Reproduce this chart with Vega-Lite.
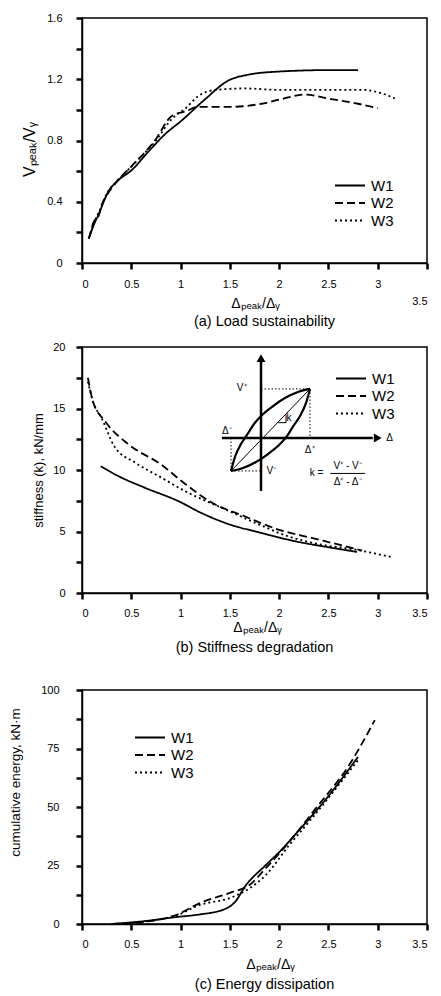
{
  "$schema": "https://vega.github.io/schema/vega-lite/v6.json",
  "padding": {"left": 7, "top": 11, "right": 5, "bottom": 2},
  "spacing": 10,
  "config": {
    "font": "Liberation Sans",
    "view": {"stroke": "black", "strokeWidth": 1.5},
    "axis": {"ticks": true, "domain": true, "domainColor": "black", "domainWidth": 1.5, "tickColor": "#000000", "tickWidth": 2.5, "tickSize": 6, "tickOpacity": 1, "labelColor": "black", "labelFontSize": 11, "titleColor": "black", "titleFontWeight": "normal", "titleFontSize": 14, "grid": false, "titleAlign": "center", "titleBaseline": "middle"},
    "title": {"color": "black", "fontWeight": "normal", "fontSize": 14.5},
    "legend": {"orient": "none", "title": null, "labelFontSize": 15, "labelColor": "black", "symbolStrokeWidth": 2, "symbolSize": 900, "symbolStrokeColor": "black", "clipHeight": 15, "rowPadding": 1.5, "labelOffset": 5}
  },
  "datasets": {
    "a": [
      {"x": 0.07, "y": 0.16, "s": "W1"}, {"x": 0.12, "y": 0.25, "s": "W1"}, {"x": 0.17, "y": 0.32, "s": "W1"}, {"x": 0.22, "y": 0.40, "s": "W1"}, {"x": 0.27, "y": 0.47, "s": "W1"}, {"x": 0.35, "y": 0.53, "s": "W1"}, {"x": 0.51, "y": 0.61, "s": "W1"}, {"x": 0.65, "y": 0.71, "s": "W1"}, {"x": 0.84, "y": 0.84, "s": "W1"}, {"x": 1.01, "y": 0.93, "s": "W1"}, {"x": 1.25, "y": 1.07, "s": "W1"}, {"x": 1.48, "y": 1.19, "s": "W1"}, {"x": 1.69, "y": 1.23, "s": "W1"}, {"x": 1.99, "y": 1.25, "s": "W1"}, {"x": 2.53, "y": 1.26, "s": "W1"}, {"x": 2.80, "y": 1.26, "s": "W1"},
      {"x": 0.07, "y": 0.16, "s": "W2"}, {"x": 0.12, "y": 0.27, "s": "W2"}, {"x": 0.17, "y": 0.31, "s": "W2"}, {"x": 0.20, "y": 0.38, "s": "W2"}, {"x": 0.25, "y": 0.44, "s": "W2"}, {"x": 0.35, "y": 0.53, "s": "W2"}, {"x": 0.50, "y": 0.63, "s": "W2"}, {"x": 0.74, "y": 0.80, "s": "W2"}, {"x": 0.91, "y": 0.96, "s": "W2"}, {"x": 1.05, "y": 0.99, "s": "W2"}, {"x": 1.18, "y": 1.02, "s": "W2"}, {"x": 1.52, "y": 1.02, "s": "W2"}, {"x": 1.82, "y": 1.04, "s": "W2"}, {"x": 2.02, "y": 1.07, "s": "W2"}, {"x": 2.26, "y": 1.10, "s": "W2"}, {"x": 2.53, "y": 1.07, "s": "W2"}, {"x": 2.80, "y": 1.04, "s": "W2"}, {"x": 3.00, "y": 1.01, "s": "W2"},
      {"x": 0.07, "y": 0.16, "s": "W3"}, {"x": 0.12, "y": 0.26, "s": "W3"}, {"x": 0.17, "y": 0.33, "s": "W3"}, {"x": 0.25, "y": 0.45, "s": "W3"}, {"x": 0.35, "y": 0.53, "s": "W3"}, {"x": 0.50, "y": 0.63, "s": "W3"}, {"x": 0.75, "y": 0.80, "s": "W3"}, {"x": 0.91, "y": 0.94, "s": "W3"}, {"x": 1.05, "y": 1.01, "s": "W3"}, {"x": 1.18, "y": 1.09, "s": "W3"}, {"x": 1.35, "y": 1.13, "s": "W3"}, {"x": 1.65, "y": 1.14, "s": "W3"}, {"x": 2.02, "y": 1.13, "s": "W3"}, {"x": 2.36, "y": 1.13, "s": "W3"}, {"x": 2.87, "y": 1.13, "s": "W3"}, {"x": 3.03, "y": 1.11, "s": "W3"}, {"x": 3.19, "y": 1.07, "s": "W3"}
    ],
    "b": [
      {"x": 0.19, "y": 10.3, "s": "W1"}, {"x": 0.37, "y": 9.5, "s": "W1"}, {"x": 0.64, "y": 8.55, "s": "W1"}, {"x": 0.98, "y": 7.46, "s": "W1"}, {"x": 1.21, "y": 6.51, "s": "W1"}, {"x": 1.48, "y": 5.62, "s": "W1"}, {"x": 1.82, "y": 4.88, "s": "W1"}, {"x": 2.16, "y": 4.21, "s": "W1"}, {"x": 2.50, "y": 3.72, "s": "W1"}, {"x": 2.79, "y": 3.34, "s": "W1"},
      {"x": 0.06, "y": 17.5, "s": "W2"}, {"x": 0.11, "y": 15.6, "s": "W2"}, {"x": 0.23, "y": 14.0, "s": "W2"}, {"x": 0.47, "y": 12.1, "s": "W2"}, {"x": 0.81, "y": 10.4, "s": "W2"}, {"x": 1.01, "y": 9.1, "s": "W2"}, {"x": 1.32, "y": 7.33, "s": "W2"}, {"x": 1.65, "y": 6.24, "s": "W2"}, {"x": 1.99, "y": 5.16, "s": "W2"}, {"x": 2.33, "y": 4.48, "s": "W2"}, {"x": 2.67, "y": 3.80, "s": "W2"}, {"x": 2.84, "y": 3.45, "s": "W2"},
      {"x": 0.06, "y": 17.2, "s": "W3"}, {"x": 0.11, "y": 15.6, "s": "W3"}, {"x": 0.20, "y": 14.2, "s": "W3"}, {"x": 0.33, "y": 11.9, "s": "W3"}, {"x": 0.54, "y": 10.6, "s": "W3"}, {"x": 0.81, "y": 9.36, "s": "W3"}, {"x": 1.08, "y": 8.14, "s": "W3"}, {"x": 1.42, "y": 6.92, "s": "W3"}, {"x": 1.76, "y": 5.70, "s": "W3"}, {"x": 2.09, "y": 4.61, "s": "W3"}, {"x": 2.43, "y": 3.93, "s": "W3"}, {"x": 2.77, "y": 3.53, "s": "W3"}, {"x": 3.15, "y": 2.90, "s": "W3"}
    ],
    "c": [
      {"x": 0.30, "y": 0, "s": "W1"}, {"x": 0.67, "y": 1.4, "s": "W1"}, {"x": 0.94, "y": 2.9, "s": "W1"}, {"x": 1.18, "y": 4.0, "s": "W1"}, {"x": 1.45, "y": 6.4, "s": "W1"}, {"x": 1.55, "y": 9.3, "s": "W1"}, {"x": 1.66, "y": 16.4, "s": "W1"}, {"x": 1.86, "y": 25.0, "s": "W1"}, {"x": 2.00, "y": 30.7, "s": "W1"}, {"x": 2.20, "y": 40.0, "s": "W1"}, {"x": 2.48, "y": 53.6, "s": "W1"}, {"x": 2.80, "y": 71.4, "s": "W1"},
      {"x": 0.30, "y": 0, "s": "W2"}, {"x": 0.67, "y": 1.1, "s": "W2"}, {"x": 0.98, "y": 4.3, "s": "W2"}, {"x": 1.18, "y": 8.6, "s": "W2"}, {"x": 1.52, "y": 13.6, "s": "W2"}, {"x": 1.69, "y": 16.4, "s": "W2"}, {"x": 1.86, "y": 23.6, "s": "W2"}, {"x": 2.10, "y": 35.0, "s": "W2"}, {"x": 2.37, "y": 49.3, "s": "W2"}, {"x": 2.71, "y": 67.9, "s": "W2"}, {"x": 2.97, "y": 87.1, "s": "W2"},
      {"x": 0.30, "y": 0, "s": "W3"}, {"x": 0.67, "y": 1.2, "s": "W3"}, {"x": 0.98, "y": 4.0, "s": "W3"}, {"x": 1.18, "y": 7.9, "s": "W3"}, {"x": 1.52, "y": 11.4, "s": "W3"}, {"x": 1.69, "y": 15.0, "s": "W3"}, {"x": 1.86, "y": 20.7, "s": "W3"}, {"x": 2.10, "y": 33.6, "s": "W3"}, {"x": 2.37, "y": 47.1, "s": "W3"}, {"x": 2.80, "y": 70.0, "s": "W3"}
    ],
    "loop": [
      {"x": 1.512, "y": 9.92, "arc": "upper"}, {"x": 1.552, "y": 11.06, "arc": "upper"}, {"x": 1.613, "y": 12.11, "arc": "upper"}, {"x": 1.674, "y": 12.85, "arc": "upper"}, {"x": 1.745, "y": 13.74, "arc": "upper"}, {"x": 1.816, "y": 14.39, "arc": "upper"}, {"x": 1.938, "y": 15.2, "arc": "upper"}, {"x": 2.059, "y": 15.85, "arc": "upper"}, {"x": 2.191, "y": 16.34, "arc": "upper"}, {"x": 2.313, "y": 16.59, "arc": "upper"},
      {"x": 1.512, "y": 9.92, "arc": "lower"}, {"x": 1.633, "y": 10.16, "arc": "lower"}, {"x": 1.765, "y": 10.65, "arc": "lower"}, {"x": 1.887, "y": 11.3, "arc": "lower"}, {"x": 2.009, "y": 12.11, "arc": "lower"}, {"x": 2.08, "y": 12.76, "arc": "lower"}, {"x": 2.151, "y": 13.66, "arc": "lower"}, {"x": 2.212, "y": 14.39, "arc": "lower"}, {"x": 2.273, "y": 15.45, "arc": "lower"}, {"x": 2.313, "y": 16.59, "arc": "lower"}
    ],
    "axesLines": [
      {"x": 1.816, "y": 8.3, "x2": 1.816, "y2": 18.8},
      {"x": 1.42, "y": 12.6, "x2": 2.95, "y2": 12.6}
    ],
    "thinLines": [
      {"x": 1.512, "y": 9.92, "x2": 2.313, "y2": 16.59},
      {"x": 2.52, "y": 9.72, "x2": 2.87, "y2": 9.72},
      {"x": 1.99, "y": 13.85, "x2": 2.07, "y2": 13.85},
      {"x": 2.07, "y": 13.85, "x2": 2.07, "y2": 14.5}
    ],
    "dottedLines": [
      {"x": 1.816, "y": 16.59, "x2": 2.313, "y2": 16.59},
      {"x": 2.313, "y": 16.59, "x2": 2.313, "y2": 12.6},
      {"x": 1.512, "y": 9.92, "x2": 1.816, "y2": 9.92},
      {"x": 1.512, "y": 9.92, "x2": 1.512, "y2": 12.6}
    ],
    "arrowUp": [{"x": 1.816, "y": 19.1}],
    "arrowRight": [{"x": 3.0, "y": 12.6}],
    "insetText": [
      {"x": 1.62, "y": 16.7, "t": "V⁺"},
      {"x": 1.47, "y": 13.2, "t": "Δ⁻"},
      {"x": 2.31, "y": 11.6, "t": "Δ⁺"},
      {"x": 1.92, "y": 9.9, "t": "V⁻"},
      {"x": 3.12, "y": 12.6, "t": "Δ"},
      {"x": 2.1, "y": 14.25, "t": "k"},
      {"x": 2.38, "y": 9.72, "t": "k ="},
      {"x": 2.695, "y": 10.35, "t": "V⁺ - V⁻"},
      {"x": 2.695, "y": 9.0, "t": "Δ⁺ - Δ⁻"}
    ]
  },
  "resolve": {"scale": {"strokeDash": "independent"}, "legend": {"strokeDash": "independent"}},
  "vconcat": [
    {
      "width": 345,
      "height": 245,
      "title": {"text": "(a) Load sustainability", "orient": "bottom", "frame": "group", "offset": 5, "dx": 10},
      "data": {"name": "a"},
      "mark": {"type": "line", "color": "black", "strokeWidth": 1.8, "interpolate": "monotone"},
      "encoding": {
        "x": {"field": "x", "type": "quantitative", "scale": {"domain": [0, 3.5], "nice": false},
          "axis": {"ticks": true, "tickColor": "#000000", "tickWidth": 2.5, "tickSize": 6, "values": [0, 0.5, 1, 1.5, 2, 2.5, 3, 3.5], "labelExpr": "format(datum.value, '~g')", "title": "Δₚₑₐₖ/Δᵧ", "titleX": 173, "titleY": 40,
            "labelPadding": {"condition": {"test": "datum.value == 3.5", "value": 26}, "value": 9}}},
        "y": {"field": "y", "type": "quantitative", "scale": {"domain": [0, 1.6], "nice": false},
          "axis": {"ticks": true, "tickColor": "#000000", "tickWidth": 2.5, "tickSize": 6, "values": [0, 0.2, 0.4, 0.6, 0.8, 1, 1.2, 1.4, 1.6], "labelExpr": "round(datum.value * 10) % 4 == 0 ? format(datum.value, '~g') : ''", "labelPadding": 14, "title": "Vₚₑₐₖ/Vᵧ", "titleFontSize": 16, "titleX": -53, "titleY": 131}},
        "strokeDash": {"field": "s", "type": "nominal", "scale": {"domain": ["W1", "W2", "W3"], "range": [[1, 0], [8, 4], [2, 3]]},
          "legend": {"legendX": 252, "legendY": 160}}
      }
    },
    {
      "width": 345,
      "height": 246,
      "title": {"text": ["(b) Stiffness degradation", " "], "orient": "bottom", "frame": "group", "offset": 7, "lineHeight": 17},
      "encoding": {
        "x": {"field": "x", "type": "quantitative", "scale": {"domain": [0, 3.5], "nice": false},
          "axis": {"ticks": true, "tickColor": "#000000", "tickWidth": 2.5, "tickSize": 6, "values": [0, 0.5, 1, 1.5, 2, 2.5, 3, 3.5], "labelExpr": "format(datum.value, '~g')", "labelPadding": 8, "title": "Δₚₑₐₖ/Δᵧ", "titleX": 175, "titleY": 34}},
        "y": {"field": "y", "type": "quantitative", "scale": {"domain": [0, 20], "nice": false},
          "axis": {"ticks": true, "tickColor": "#000000", "tickWidth": 2.5, "tickSize": 6, "values": [0, 2.5, 5, 7.5, 10, 12.5, 15, 17.5, 20], "labelExpr": "datum.value % 5 == 0 ? format(datum.value, '~g') : ''", "labelPadding": 11, "title": "stiffness (k), kN/mm", "titleFontSize": 13, "titleX": -44, "titleY": 123}}
      },
      "layer": [
        {
          "data": {"name": "b"},
          "mark": {"type": "line", "color": "black", "strokeWidth": 1.8, "interpolate": "monotone"},
          "encoding": {
            "strokeDash": {"field": "s", "type": "nominal", "scale": {"domain": ["W1", "W2", "W3"], "range": [[1, 0], [8, 4], [2, 3]]},
              "legend": {"legendX": 253, "legendY": 24}}
          }
        },
        {
          "data": {"name": "loop"},
          "mark": {"type": "line", "color": "black", "strokeWidth": 2.2, "interpolate": "monotone"},
          "encoding": {"detail": {"field": "arc"}}
        },
        {
          "data": {"name": "axesLines"},
          "mark": {"type": "rule", "color": "black", "strokeWidth": 2.5},
          "encoding": {"x2": {"field": "x2"}, "y2": {"field": "y2"}}
        },
        {
          "data": {"name": "thinLines"},
          "mark": {"type": "rule", "color": "black", "strokeWidth": 1},
          "encoding": {"x2": {"field": "x2"}, "y2": {"field": "y2"}}
        },
        {
          "data": {"name": "dottedLines"},
          "mark": {"type": "rule", "color": "black", "strokeWidth": 1, "strokeDash": [1.5, 2]},
          "encoding": {"x2": {"field": "x2"}, "y2": {"field": "y2"}}
        },
        {
          "data": {"name": "arrowUp"},
          "mark": {"type": "point", "shape": "triangle-up", "filled": true, "color": "black", "size": 80, "opacity": 1},
          "encoding": {}
        },
        {
          "data": {"name": "arrowRight"},
          "mark": {"type": "point", "shape": "triangle-right", "filled": true, "color": "black", "size": 80, "opacity": 1},
          "encoding": {}
        },
        {
          "data": {"name": "insetText"},
          "mark": {"type": "text", "color": "black", "fontSize": 10},
          "encoding": {"text": {"field": "t"}}
        }
      ]
    },
    {
      "width": 345,
      "height": 234,
      "title": {"text": "(c) Energy dissipation", "orient": "bottom", "frame": "group", "offset": 7, "dx": 10},
      "data": {"name": "c"},
      "mark": {"type": "line", "color": "black", "strokeWidth": 1.8, "interpolate": "monotone"},
      "encoding": {
        "x": {"field": "x", "type": "quantitative", "scale": {"domain": [0, 3.5], "nice": false},
          "axis": {"ticks": true, "tickColor": "#000000", "tickWidth": 2.5, "tickSize": 6, "values": [0, 0.5, 1, 1.5, 2, 2.5, 3, 3.5], "labelExpr": "format(datum.value, '~g')", "labelPadding": 8, "title": "Δₚₑₐₖ/Δᵧ", "titleX": 188, "titleY": 40}},
        "y": {"field": "y", "type": "quantitative", "scale": {"domain": [0, 100], "nice": false},
          "axis": {"ticks": true, "tickColor": "#000000", "tickWidth": 2.5, "tickSize": 6, "values": [0, 12.5, 25, 37.5, 50, 62.5, 75, 87.5, 100], "labelExpr": "datum.value % 25 == 0 ? format(datum.value, '~g') : ''", "labelPadding": 17, "title": "cumulative energy,  kN·m", "titleFontSize": 13.5, "titleX": -67, "titleY": 92}},
        "strokeDash": {"field": "s", "type": "nominal", "scale": {"domain": ["W1", "W2", "W3"], "range": [[1, 0], [8, 4], [2, 3]]},
          "legend": {"legendX": 52, "legendY": 40}}
      }
    }
  ]
}
